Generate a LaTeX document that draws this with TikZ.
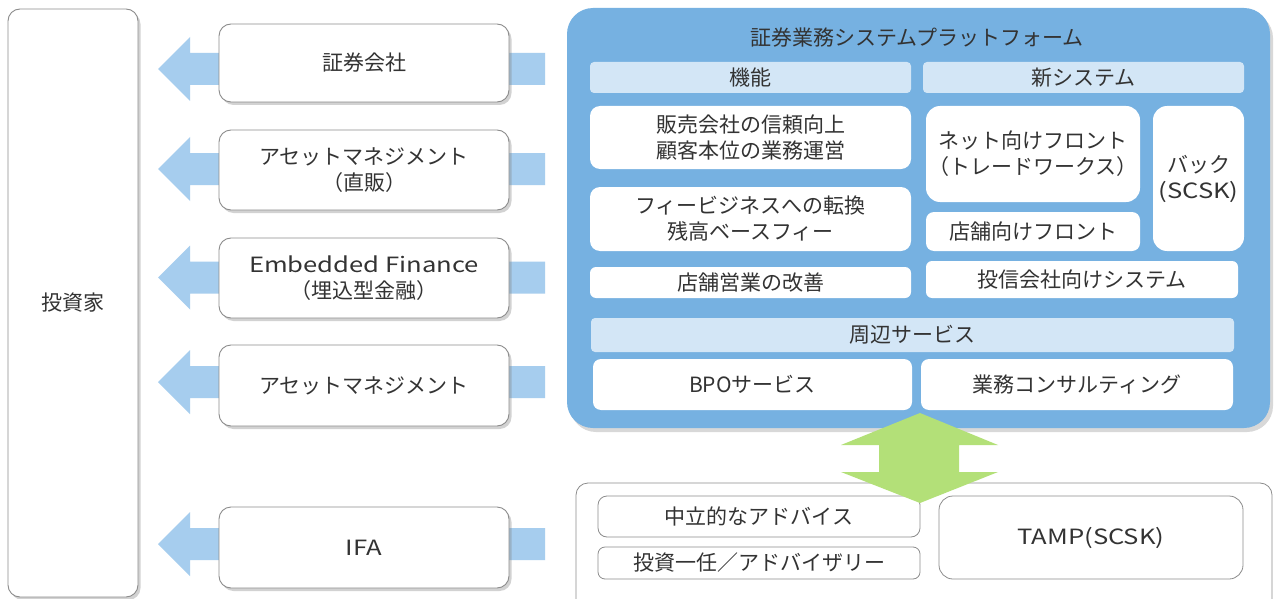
\documentclass[tikz,border=0pt]{standalone}
\usepackage{fontspec}
\setmainfont{Noto Sans CJK JP}
\newfontfamily\widelatin{Noto Sans CJK JP}[FakeStretch=1.22]
\usetikzlibrary{shadows}
\definecolor{txt}{HTML}{333333}
\definecolor{platblue}{HTML}{76B1E1}
\definecolor{arrblue}{HTML}{A6CDEE}
\definecolor{hdr}{HTML}{D3E6F6}
\definecolor{grn}{HTML}{B3E078}
\definecolor{edge}{HTML}{8C8C8C}
\begin{document}
\begin{tikzpicture}[x=1pt,y=-1pt,
  every node/.style={text=txt, font=\fontsize{21}{26}\selectfont, inner sep=0pt, align=center},
  lbox/.style={draw=edge, line width=0.9pt, fill=white, rounded corners=12pt,
    drop shadow={shadow xshift=2.5pt, shadow yshift=-3pt, opacity=0.35}},
  platbox/.style={fill=platblue, rounded corners=26pt,
    drop shadow={shadow xshift=3pt, shadow yshift=-4pt, opacity=0.3}},
  wbox/.style={fill=white, rounded corners=10pt},
  hbox/.style={fill=hdr, rounded corners=4pt},
  obox/.style={draw=edge, line width=0.8pt, fill=white, rounded corners=9pt},
  barrow/.style={fill=arrblue},
  garrow/.style={fill=grn},
]
\useasboundingbox (0,0) rectangle (1274,599);
\fill[white] (0,0) rectangle (1274,599);

% investor column
\node[lbox, minimum width=130pt, minimum height=588pt] (inv) at (73,303) {投資家};

% block arrows (behind the channel boxes)
\foreach \c in {69,169,277.5,382,544}{
  \fill[barrow] (545,{\c-16}) -- (190,{\c-16}) -- (190,{\c-32}) -- (158,\c)
    -- (190,{\c+32}) -- (190,{\c+16}) -- (545,{\c+16}) -- cycle;
}

% channel boxes
\node[lbox, minimum width=290pt, minimum height=78pt] (c1) at (364,63) {証券会社};
\node[lbox, minimum width=290pt, minimum height=80pt] (c2) at (364,170) {アセットマネジメント\\（直販）};
\node[lbox, minimum width=290pt, minimum height=80pt] (c3) at (364,278) {{\widelatin Embedded Finance}\\（埋込型金融）};
\node[lbox, minimum width=290pt, minimum height=81pt] (c4) at (364,385.5) {アセットマネジメント};
\node[lbox, minimum width=290pt, minimum height=81pt] (c5) at (364,547.5) {{\widelatin IFA}};

% platform
\node[platbox, minimum width=703pt, minimum height=420pt] (plat) at (918.5,218) {};
\node (ptitle) at (917,38) {証券業務システムプラットフォーム};

\node[hbox, minimum width=321pt, minimum height=31pt] (h1) at (750.5,77.5) {機能};
\node[hbox, minimum width=321pt, minimum height=31pt] (h2) at (1083.5,77.5) {新システム};

\node[wbox, minimum width=321pt, minimum height=63pt] (f1) at (750.5,137.5) {販売会社の信頼向上\\顧客本位の業務運営};
\node[wbox, minimum width=321pt, minimum height=64pt] (f2) at (750.5,219) {フィービジネスへの転換\\残高ベースフィー};
\node[wbox, rounded corners=6pt, minimum width=321pt, minimum height=31pt] (f3) at (750.5,282.5) {店舗営業の改善};

\node[wbox, rounded corners=14pt, minimum width=214pt, minimum height=96pt] (n1) at (1033,154) {ネット向けフロント\\（トレードワークス）};
\node[wbox, rounded corners=8pt, minimum width=214pt, minimum height=39pt] (n2) at (1033,231.5) {店舗向けフロント};
\node[wbox, rounded corners=14pt, minimum width=91pt, minimum height=145pt] (n3) at (1198.5,178.5) {バック\\{\widelatin (SCSK)}};
\node[wbox, rounded corners=6pt, minimum width=312pt, minimum height=37pt] (n4) at (1082,279.5) {投信会社向けシステム};

\node[hbox, minimum width=643pt, minimum height=34pt] (h3) at (912.5,335) {周辺サービス};
\node[wbox, rounded corners=8pt, minimum width=319pt, minimum height=51pt] (s1) at (752.5,384.5) {BPOサービス};
\node[wbox, rounded corners=8pt, minimum width=312pt, minimum height=51pt] (s2) at (1077,384.5) {業務コンサルティング};

% lower area
\draw[draw=edge, line width=0.8pt, fill=white, rounded corners=12pt] (576,483) rectangle (1272,612);
\node[obox, minimum width=322pt, minimum height=41pt] (a1) at (759,516.5) {中立的なアドバイス};
\node[obox, rounded corners=7pt, minimum width=322pt, minimum height=32pt] (a2) at (759,563) {投資一任／アドバイザリー};
\node[obox, rounded corners=14pt, minimum width=304pt, minimum height=83pt] (a3) at (1091,537.5) {{\widelatin TAMP(SCSK)}};

% green double arrow
\fill[garrow] (920,413) -- (998,445) -- (959,445) -- (959,472) -- (998,472) -- (920,503)
  -- (841,472) -- (879,472) -- (879,445) -- (841,445) -- cycle;
\end{tikzpicture}
\end{document}
